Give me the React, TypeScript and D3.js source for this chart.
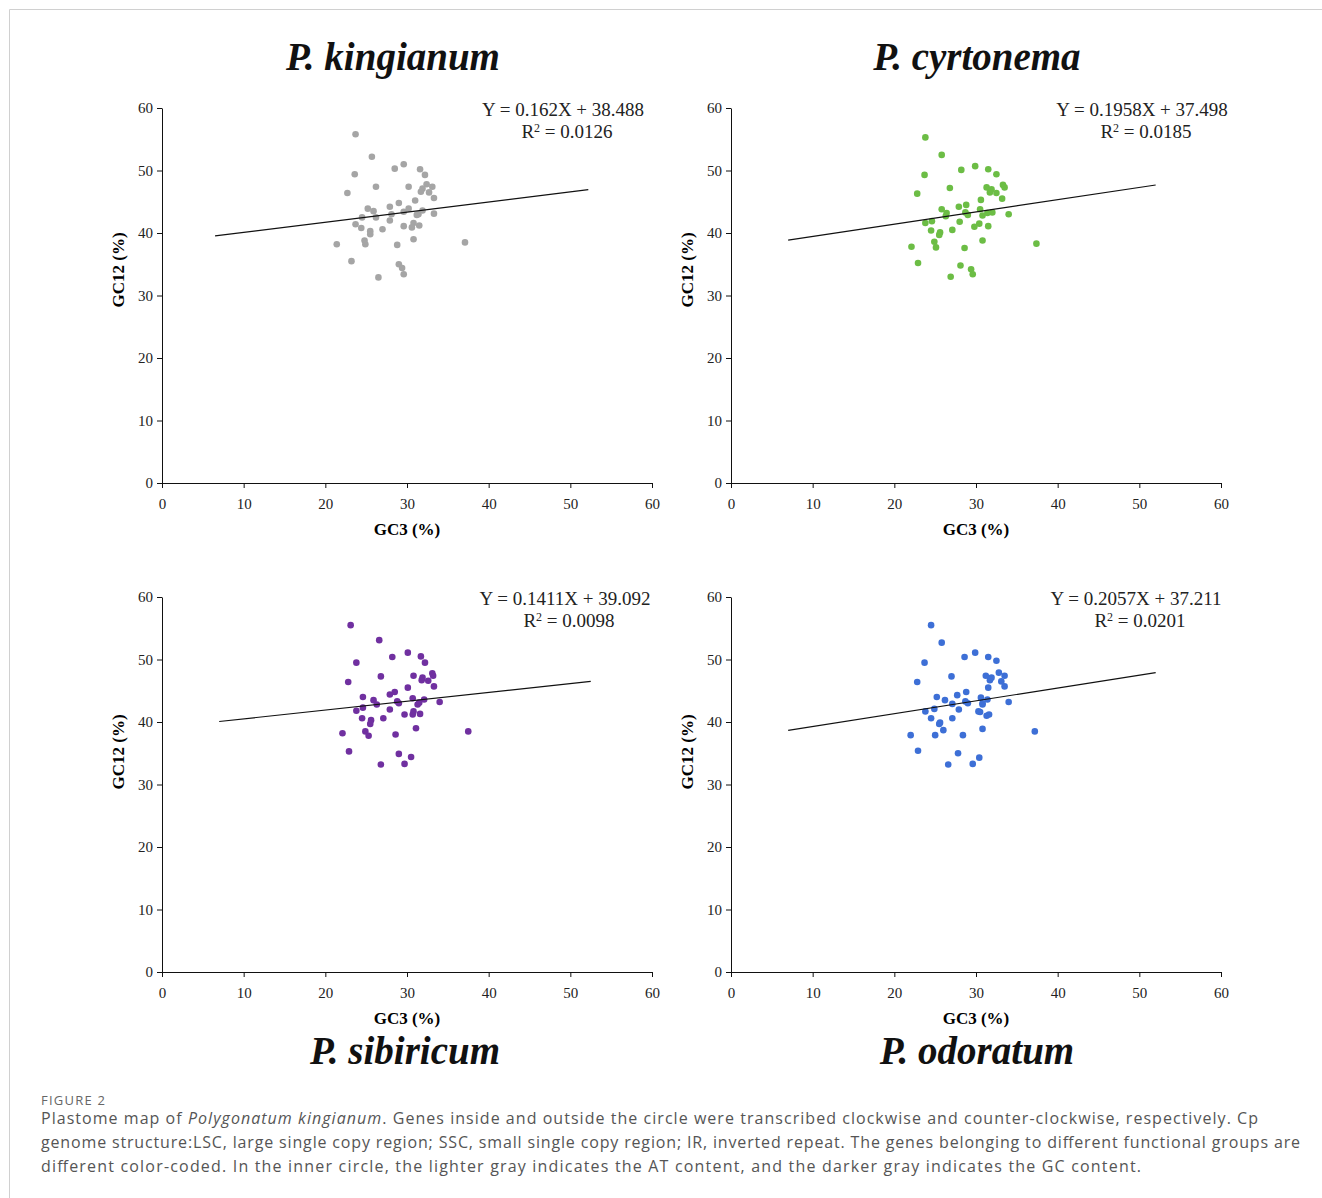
import React, { useEffect, useRef } from "react";
import * as d3 from "d3";

// GC3 (%) vs GC12 (%) for each species
const kingianumPoints: [number, number][] = [
  [23.7, 55.8], [25.7, 52.2], [29.6, 51.0], [28.5, 50.3], [31.6, 50.2], [23.6, 49.4],
  [32.2, 49.3], [26.2, 47.4], [30.2, 47.4], [32.4, 47.8], [33.1, 47.4], [31.9, 47.1],
  [31.7, 46.6], [32.7, 46.5], [22.7, 46.4], [33.3, 45.6], [31.0, 45.2], [29.0, 44.8],
  [25.2, 43.9], [27.9, 44.2], [30.2, 43.9], [25.9, 43.5], [29.6, 43.4], [31.9, 43.6],
  [28.1, 43.0], [31.2, 42.9], [31.4, 43.0], [33.3, 43.1], [24.5, 42.5], [26.2, 42.5],
  [27.9, 42.0], [23.7, 41.4], [30.8, 41.6], [29.6, 41.1], [31.5, 41.2], [24.4, 40.8],
  [27.0, 40.6], [30.6, 40.9], [25.5, 40.3], [25.5, 39.8], [30.8, 39.0], [24.8, 38.8],
  [24.9, 38.2], [21.4, 38.2], [28.8, 38.1], [37.1, 38.5], [23.2, 35.5], [29.0, 35.0],
  [29.4, 34.4], [29.6, 33.4], [26.5, 32.9],
];

const cyrtonemaPoints: [number, number][] = [
  [23.8, 55.3], [25.8, 52.5], [23.7, 49.3], [28.2, 50.1], [29.9, 50.7], [31.5, 50.2],
  [32.5, 49.4], [26.8, 47.2], [22.8, 46.3], [31.3, 47.3], [31.9, 47.0], [33.3, 47.7],
  [33.5, 47.3], [31.7, 46.5], [32.5, 46.4], [33.2, 45.5], [30.6, 45.3], [28.8, 44.5],
  [27.9, 44.2], [25.8, 43.8], [26.4, 43.2], [30.5, 43.8], [28.7, 43.3], [29.0, 42.9],
  [30.8, 42.8], [31.4, 43.2], [32.0, 43.3], [34.0, 43.0], [26.3, 42.7], [23.8, 41.6],
  [24.6, 41.9], [28.0, 41.8], [30.4, 41.5], [29.8, 41.0], [31.5, 41.1], [24.5, 40.4],
  [27.1, 40.5], [25.6, 40.1], [25.5, 39.7], [30.8, 38.8], [24.9, 38.6], [25.1, 37.7],
  [22.1, 37.8], [28.6, 37.6], [37.4, 38.3], [22.9, 35.2], [28.1, 34.8], [29.4, 34.2],
  [29.6, 33.4], [26.9, 33.0],
];

const sibiricumPoints: [number, number][] = [
  [23.1, 55.5], [26.6, 53.1], [23.8, 49.5], [28.2, 50.4], [30.1, 51.1], [31.7, 50.5],
  [32.2, 49.5], [26.8, 47.3], [22.8, 46.4], [30.8, 47.4], [31.9, 47.1], [31.8, 46.7],
  [33.1, 47.8], [33.2, 47.4], [32.6, 46.6], [33.3, 45.7], [30.1, 45.5], [27.9, 44.4],
  [28.5, 44.8], [24.6, 44.0], [25.9, 43.5], [26.3, 42.8], [30.7, 43.8], [28.8, 43.3],
  [29.0, 43.0], [31.3, 42.8], [31.5, 43.1], [32.1, 43.6], [34.0, 43.2], [24.6, 42.3],
  [23.8, 41.8], [27.9, 42.0], [30.8, 41.7], [30.7, 41.2], [29.7, 41.2], [31.6, 41.3],
  [24.5, 40.6], [27.1, 40.6], [25.6, 40.3], [25.5, 39.7], [31.1, 39.0], [24.9, 38.5],
  [25.3, 37.8], [22.1, 38.2], [28.6, 38.0], [37.5, 38.5], [22.9, 35.3], [29.0, 34.9],
  [30.5, 34.4], [29.7, 33.3], [26.8, 33.2],
];

const odoratumPoints: [number, number][] = [
  [24.5, 55.5], [25.8, 52.7], [23.7, 49.5], [28.6, 50.4], [29.9, 51.1], [31.5, 50.4],
  [32.5, 49.8], [27.0, 47.3], [22.8, 46.4], [31.2, 47.4], [31.9, 47.1], [31.7, 46.7],
  [32.8, 47.9], [33.5, 47.4], [33.1, 46.5], [33.5, 45.7], [31.5, 45.5], [28.8, 44.8],
  [27.7, 44.3], [25.2, 44.0], [26.2, 43.5], [27.1, 42.9], [30.6, 43.9], [28.7, 43.3],
  [29.0, 43.0], [30.8, 42.8], [30.8, 43.0], [31.4, 43.6], [34.0, 43.2], [24.9, 42.1],
  [23.8, 41.7], [27.9, 42.0], [30.3, 41.7], [30.5, 41.6], [31.3, 41.0], [31.6, 41.2],
  [27.1, 40.6], [24.5, 40.6], [25.6, 39.9], [25.5, 39.7], [26.0, 38.7], [30.8, 38.9],
  [25.0, 37.9], [22.0, 37.9], [28.4, 37.9], [37.2, 38.5], [22.9, 35.4], [27.8, 35.0],
  [30.4, 34.3], [29.6, 33.3], [26.6, 33.2],
];

const species = ["P. kingianum", "P. cyrtonema", "P. sibiricum", "P. odoratum"];
const slopes = [0.162, 0.1958, 0.1411, 0.2057];
const intercepts = [38.488, 37.498, 39.092, 37.211];
const equations = ["Y = 0.162X + 38.488", "Y = 0.1958X + 37.498", "Y = 0.1411X + 39.092", "Y = 0.2057X + 37.211"];
const r2Values = ["0.0126", "0.0185", "0.0098", "0.0201"];
const lineStart = [6.5, 7, 7, 7];
const lineEnd = [52.2, 52, 52.5, 52];
const xTicks = [0, 10, 20, 30, 40, 50, 60];
const yTicks = [0, 10, 20, 30, 40, 50, 60];

const allPoints = [kingianumPoints, cyrtonemaPoints, sibiricumPoints, odoratumPoints];
const colors = ["#a5a5a5", "#6cbd45", "#7030a0", "#3d6fd6"];

const serif = "'Liberation Serif', 'Times New Roman', serif";

export default function App() {
  const ref = useRef<SVGSVGElement>(null);

  useEffect(() => {
    const svg = d3.select(ref.current);
    svg.selectAll("*").remove();

    // figure frame
    svg.append("path")
      .attr("d", "M9.5,1198 L9.5,9.5 L1322,9.5")
      .attr("fill", "none")
      .attr("stroke", "#d0d0d0")
      .attr("stroke-width", 1);

    const panels = [
      { left: 162, top: 108, titleX: 393, titleY: 70, eqX: 563, labelCY: 270 },
      { left: 731, top: 108, titleX: 977, titleY: 70, eqX: 1142, labelCY: 270 },
      { left: 162, top: 597, titleX: 405, titleY: 1064, eqX: 565, labelCY: 752 },
      { left: 731, top: 597, titleX: 977, titleY: 1064, eqX: 1136, labelCY: 752 },
    ];
    const w = 490;
    const h = 375;

    panels.forEach((p, i) => {
      const x = d3.scaleLinear().domain([0, 60]).range([p.left, p.left + w]);
      const y = d3.scaleLinear().domain([0, 60]).range([p.top + h, p.top]);

      const g = svg.append("g");

      const xAxis = g.append("g")
        .attr("transform", `translate(0,${p.top + h})`)
        .call(d3.axisBottom(x).tickValues(xTicks).tickSize(5).tickSizeOuter(0).tickPadding(10));
      const yAxis = g.append("g")
        .attr("transform", `translate(${p.left},0)`)
        .call(d3.axisLeft(y).tickValues(yTicks).tickSize(5).tickSizeOuter(0).tickPadding(4));

      [xAxis, yAxis].forEach((a) => {
        a.attr("font-family", serif).attr("font-size", 15);
        a.selectAll("text").attr("fill", "#222");
        a.selectAll("line,path").attr("stroke", "#111");
      });

      // axis titles
      g.append("text")
        .attr("x", p.left + w / 2)
        .attr("y", p.top + h + 52)
        .attr("text-anchor", "middle")
        .attr("font-family", serif)
        .attr("font-weight", "bold")
        .attr("font-size", 17)
        .text("GC3 (%)");
      g.append("text")
        .attr("transform", `translate(${p.left - 38},${p.labelCY}) rotate(-90)`)
        .attr("text-anchor", "middle")
        .attr("font-family", serif)
        .attr("font-weight", "bold")
        .attr("font-size", 17)
        .text("GC12 (%)");

      // points
      g.selectAll("circle")
        .data(allPoints[i])
        .enter()
        .append("circle")
        .attr("cx", (d) => x(d[0]))
        .attr("cy", (d) => y(d[1]))
        .attr("r", 3.3)
        .attr("fill", colors[i]);

      // trend line
      const line = d3.line<number>()
        .x((d) => x(d))
        .y((d) => y(slopes[i] * d + intercepts[i]));
      g.append("path")
        .attr("d", line([lineStart[i], lineEnd[i]]))
        .attr("fill", "none")
        .attr("stroke", "#111")
        .attr("stroke-width", 1.2);

      // equation
      g.append("text")
        .attr("x", p.eqX)
        .attr("y", p.top + 8)
        .attr("text-anchor", "middle")
        .attr("font-family", serif)
        .attr("font-size", 19)
        .attr("fill", "#222")
        .text(equations[i]);
      const r2 = g.append("text")
        .attr("x", p.eqX + 4)
        .attr("y", p.top + 30)
        .attr("text-anchor", "middle")
        .attr("font-family", serif)
        .attr("font-size", 19)
        .attr("fill", "#222");
      r2.append("tspan").text("R");
      r2.append("tspan").attr("dy", -6).attr("font-size", 12).text("2");
      r2.append("tspan").attr("dy", 6).text(" = " + r2Values[i]);

      // species title
      g.append("text")
        .attr("x", p.titleX)
        .attr("y", p.titleY)
        .attr("text-anchor", "middle")
        .attr("font-family", serif)
        .attr("font-weight", "bold")
        .attr("font-style", "italic")
        .attr("font-size", 39)
        .attr("fill", "#111")
        .text(species[i]);
    });

    // caption
    const sans = "'Open Sans', Lato, sans-serif";
    svg.append("text")
      .attr("x", 41)
      .attr("y", 1105)
      .attr("font-family", sans)
      .attr("font-size", 13)
      .attr("fill", "#666")
      .attr("textLength", 64)
      .text("FIGURE 2");
    const first = svg.append("text")
      .attr("x", 41)
      .attr("y", 1124)
      .attr("font-family", sans)
      .attr("font-size", 16)
      .attr("fill", "#555")
      .attr("textLength", 1217)
      .attr("lengthAdjust", "spacing");
    first.append("tspan").text("Plastome map of ");
    first.append("tspan").attr("font-style", "italic").text("Polygonatum kingianum");
    first.append("tspan").text(". Genes inside and outside the circle were transcribed clockwise and counter-clockwise, respectively. Cp");

    const rest = [
      { t: "genome structure:LSC, large single copy region; SSC, small single copy region; IR, inverted repeat. The genes belonging to different functional groups are", len: 1259 },
      { t: "different color-coded. In the inner circle, the lighter gray indicates the AT content, and the darker gray indicates the GC content.", len: 1100 },
    ];
    rest.forEach((r, k) => {
      svg.append("text")
        .attr("x", 41)
        .attr("y", 1148 + k * 24)
        .attr("font-family", sans)
        .attr("font-size", 16)
        .attr("fill", "#555")
        .attr("textLength", r.len)
        .attr("lengthAdjust", "spacing")
        .text(r.t);
    });
  }, []);

  return (
    <svg
      ref={ref}
      width={1322}
      height={1198}
      style={{ position: "absolute", left: 0, top: 0, background: "#fff" }}
    />
  );
}
